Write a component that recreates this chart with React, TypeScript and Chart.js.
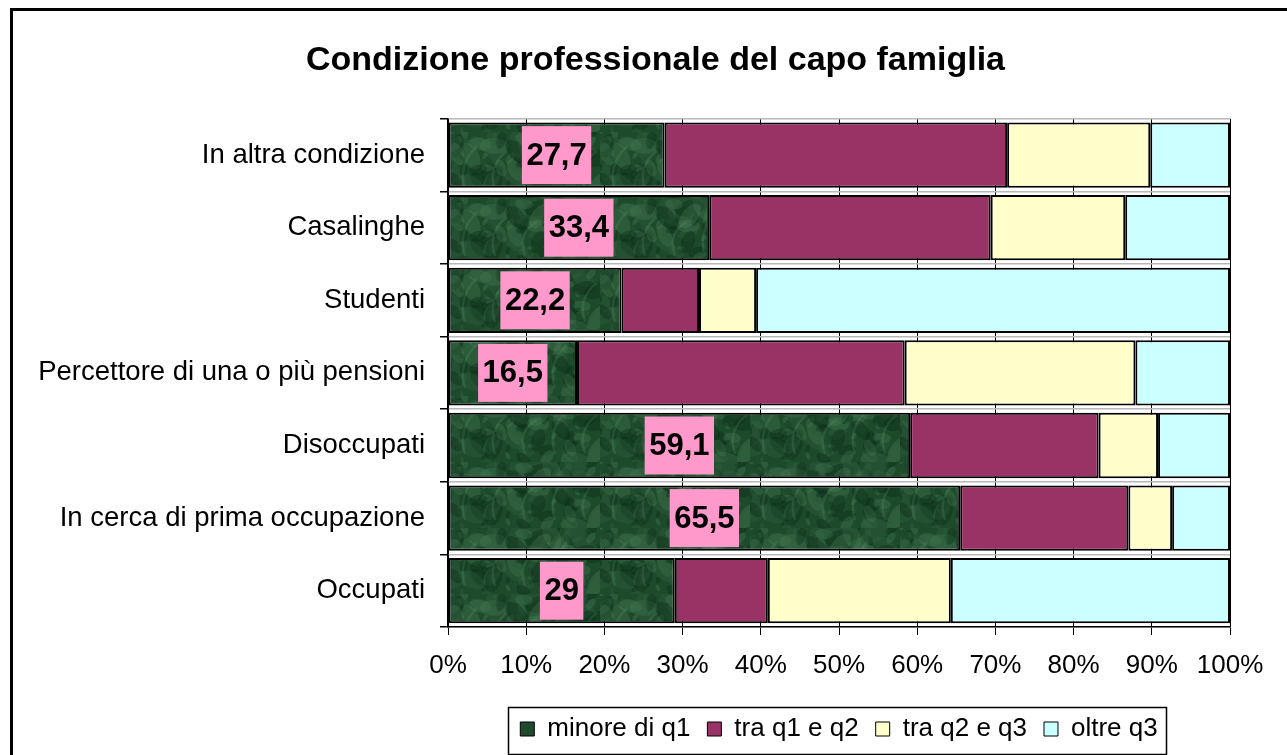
import React, { useEffect, useRef } from "react";
import { Chart, registerables } from "chart.js";

Chart.register(...registerables);

const categories = [
  "In altra condizione",
  "Casalinghe",
  "Studenti",
  "Percettore di una o più pensioni",
  "Disoccupati",
  "In cerca di prima occupazione",
  "Occupati",
];
const minoreQ1 = [27.7, 33.4, 22.2, 16.5, 59.1, 65.5, 29];
const traQ1Q2 = [43.8, 36.0, 9.9, 41.9, 24.1, 21.5, 11.9];
const traQ2Q3 = [18.3, 17.2, 7.3, 29.5, 7.6, 5.6, 23.4];
const oltreQ3 = [10.2, 13.4, 60.6, 12.1, 9.2, 7.4, 35.7];
const seriesNames = ["minore di q1", "tra q1 e q2", "tra q2 e q3", "oltre q3"];
const titleText = "Condizione professionale del capo famiglia";

const FONT = "'Liberation Sans', Arial, Helvetica, sans-serif";

function makeGreenTexture(ctx: CanvasRenderingContext2D): CanvasPattern | string {
  const c = document.createElement("canvas");
  c.width = 150;
  c.height = 66;
  const g = c.getContext("2d");
  if (!g) return "#214f30";
  g.fillStyle = "#1c4a2b";
  g.fillRect(0, 0, c.width, c.height);
  for (let i = 0; i < 90; i++) {
    const x = (i * 37 + Math.floor(i / 7) * 11) % c.width;
    const y = (i * 23 + (i % 4) * 5) % c.height;
    const r = 2 + (i % 5) * 1.5;
    g.fillStyle =
      i % 3 === 0 ? "rgba(90,145,105,0.24)" : i % 3 === 1 ? "rgba(10,40,20,0.35)" : "rgba(55,105,70,0.25)";
    g.beginPath();
    g.ellipse(x, y, r * 1.8, r, i * 0.7, 0, Math.PI * 2);
    g.fill();
  }
  g.strokeStyle = "rgba(110,165,125,0.18)";
  g.lineWidth = 2.5;
  for (let i = 0; i < 5; i++) {
    const x0 = 15 + i * 30;
    g.beginPath();
    g.moveTo(x0, 58);
    g.quadraticCurveTo(x0 - 8, 34, x0 + 12, 14 + (i % 3) * 5);
    g.stroke();
  }
  return ctx.createPattern(c, "repeat") || "#214f30";
}

const borderPlugin = {
  id: "outerBorder",
  beforeDraw(chart: any) {
    const ctx = chart.ctx;
    ctx.save();
    ctx.fillStyle = "#ffffff";
    ctx.fillRect(0, 0, chart.width, chart.height);
    ctx.strokeStyle = "#000";
    ctx.lineWidth = 3;
    ctx.beginPath();
    ctx.moveTo(11.5, chart.height + 5);
    ctx.lineTo(11.5, 9.5);
    ctx.lineTo(chart.width + 5, 9.5);
    ctx.stroke();
    ctx.restore();
  },
};

const titlePosPlugin = {
  id: "titlePos",
  afterLayout(chart: any) {
    const t = chart.titleBlock;
    if (t) {
      t.left = 24;
      t.right = 1287;
    }
  },
};

const legendBoxPlugin = {
  id: "legendBox",
  afterDraw(chart: any) {
    const lg = chart.legend;
    if (!lg || !lg.legendHitBoxes || !lg.legendHitBoxes.length) return;
    const boxes = lg.legendHitBoxes;
    let l = Infinity, r = -Infinity, t = Infinity, b = -Infinity;
    boxes.forEach((h: any) => {
      l = Math.min(l, h.left);
      r = Math.max(r, h.left + h.width);
      t = Math.min(t, h.top);
      b = Math.max(b, h.top + h.height);
    });
    const ctx = chart.ctx;
    ctx.save();
    ctx.strokeStyle = "#000";
    ctx.lineWidth = 1.5;
    const x0 = Math.round(l - 12) + 0.5;
    const y0 = Math.round(t - 9) + 0.5;
    const x1 = Math.round(r + 8) + 0.5;
    const y1 = Math.round(b + 12) + 0.5;
    ctx.strokeRect(x0, y0, x1 - x0, y1 - y0);
    ctx.restore();
  },
};

const labelPlugin = {
  id: "pinkLabels",
  afterDatasetsDraw(chart: any) {
    const meta = chart.getDatasetMeta(0);
    const ctx = chart.ctx;
    ctx.save();
    ctx.font = `bold 31px ${FONT}`;
    ctx.textAlign = "center";
    ctx.textBaseline = "middle";
    meta.data.forEach((bar: any, i: number) => {
      const v = minoreQ1[i];
      const txt = String(v).replace(".", ",");
      const cx = (bar.base + bar.x) / 2;
      const cy = bar.y;
      const w = ctx.measureText(txt).width + 9;
      const h = 58;
      ctx.fillStyle = "#FF99CC";
      ctx.fillRect(cx - w / 2, cy - h / 2, w, h);
      ctx.fillStyle = "#000";
      ctx.fillText(txt, cx, cy + 1);
    });
    ctx.restore();
  },
};

export default function App() {
  const ref = useRef<HTMLCanvasElement | null>(null);
  useEffect(() => {
    const canvas = ref.current;
    if (!canvas) return;
    const ctx = canvas.getContext("2d");
    if (!ctx) return;
    const green = makeGreenTexture(ctx);
    const colors: any[] = [green, "#993366", "#FFFFCC", "#CCFFFF"];
    const legendColors = ["#1f4a2c", "#993366", "#FFFFCC", "#CCFFFF"];
    const values = [minoreQ1, traQ1Q2, traQ2Q3, oltreQ3];
    const chart = new Chart(ctx, {
      type: "bar",
      data: {
        labels: categories,
        datasets: seriesNames.map((name, i) => ({
          label: name,
          data: values[i],
          backgroundColor: colors[i],
          borderColor: "#000",
          borderWidth: 2,
          borderSkipped: false,
          barPercentage: 0.9,
          categoryPercentage: 1,
        })),
      },
      options: {
        indexAxis: "y",
        responsive: false,
        animation: false,
        layout: { padding: { left: 0, right: 57, top: 0, bottom: 3 } },
        scales: {
          x: {
            stacked: true,
            min: 0,
            max: 100,
            ticks: {
              stepSize: 10,
              callback: (v: any) => v + "%",
              color: "#000",
              font: { family: FONT, size: 26 },
              padding: 15,
              maxRotation: 0,
            },
            grid: { color: "#000", lineWidth: 1, tickLength: 8, tickColor: "#000" },
            border: { color: "#000", width: 1.5 },
            afterFit: (scale: any) => {
              scale.height = 72;
            },
          },
          y: {
            stacked: true,
            ticks: { color: "#000", font: { family: FONT, size: 27.5 }, padding: 15 },
            grid: { offset: true, color: "#b8b8b8", lineWidth: 1.5, tickLength: 8, tickColor: "#000" },
            border: { color: "#000", width: 1.5 },
            afterFit: (scale: any) => {
              scale.width = 448;
            },
          },
        },
        plugins: {
          title: {
            display: true,
            text: titleText,
            color: "#000",
            font: { family: FONT, size: 34, weight: "bold" },
            padding: { top: 40, bottom: 38 },
          },
          legend: {
            position: "bottom",
            fullSize: false,
            labels: {
              color: "#000",
              font: { family: FONT, size: 26 },
              boxWidth: 14,
              boxHeight: 14,
              padding: 17,
              generateLabels: () =>
                seriesNames.map((n, i) => ({
                  text: n,
                  fillStyle: legendColors[i],
                  strokeStyle: "#000",
                  lineWidth: 1,
                  datasetIndex: i,
                  hidden: false,
                })),
            },
          },
          tooltip: { enabled: false },
        },
      },
      plugins: [borderPlugin, titlePosPlugin, labelPlugin, legendBoxPlugin],
    } as any);
    return () => chart.destroy();
  }, []);
  return (
    <div style={{ position: "fixed", left: 0, top: 0, width: 1287, height: 755, background: "#fff" }}>
      <canvas ref={ref} width={1287} height={755} style={{ display: "block" }} />
    </div>
  );
}
